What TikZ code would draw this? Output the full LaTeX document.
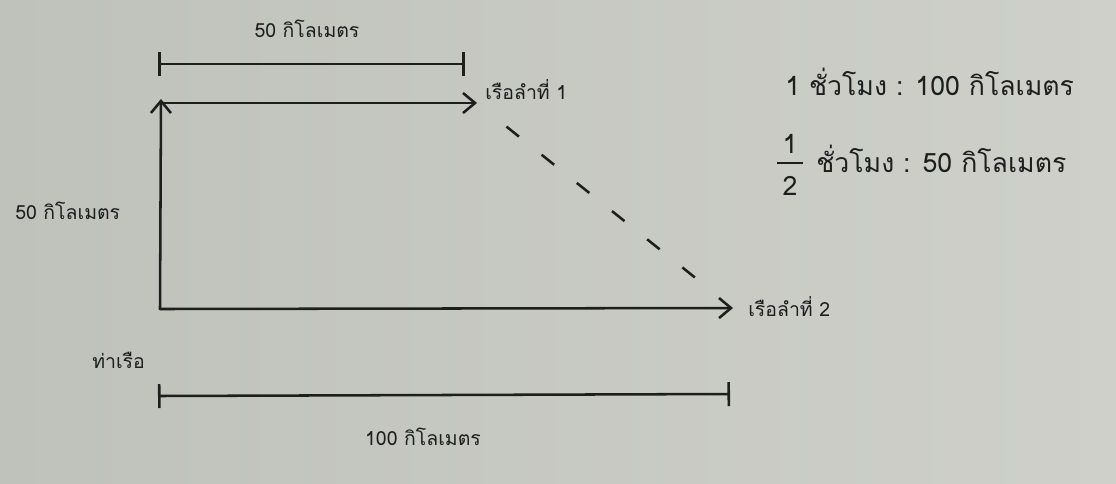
\documentclass[tikz,border=0pt]{standalone}
\usepackage{fontspec}
\newfontfamily\thaifont[Script=Thai]{Loma}
\usetikzlibrary{arrows.meta}
\definecolor{paperL}{RGB}{207,208,202}
\definecolor{paperD}{RGB}{191,193,187}
\definecolor{ink}{RGB}{30,30,30}
\tikzset{
  stroke/.style={draw=ink, line width=1.9pt, line cap=round},
  arr/.style={stroke, -{Straight Barb[length=9pt,width=15pt,line width=1.9pt]}},
  tick/.style={stroke, {Bar[width=18pt,line width=1.9pt]}-{Bar[width=18pt,line width=1.9pt]}},
  dashes/.style={draw=ink, line width=1.9pt, dash pattern=on 12pt off 21.8pt},
  small/.style={text=ink, inner sep=0pt, font=\thaifont\fontsize{14.6}{17}\selectfont},
  big/.style={text=ink, inner sep=0pt, font=\thaifont\fontsize{20}{24}\selectfont},
}
\begin{document}
\begin{tikzpicture}[x=0.75pt,y=-0.75pt]
  \shade[left color=paperD, right color=paperL] (0,0) rectangle (1116,483);
  \useasboundingbox (0,0) rectangle (1116,483);
  % key points
  \coordinate (port) at (160,309);
  \coordinate (north) at (161,99);
  \coordinate (start1) at (162,103);
  \coordinate (boat1) at (477,103);
  \coordinate (boat2) at (733,308);
  \coordinate (t1a) at (158,64);
  \coordinate (t1b) at (465,64);
  \coordinate (t2a) at (158,396);
  \coordinate (t2b) at (730,394);
  % dimension bars
  \draw[tick] (t1a) -- (t1b);
  \draw[tick] (t2a) -- (t2b);
  % arrows
  \draw[arr] (port) -- (north);
  \draw[arr] (start1) -- (boat1);
  \draw[arr] (port) -- (boat2);
  \draw[dashes, shorten <=28.3pt, shorten >=36.4pt] (boat1) -- (boat2);
  % labels
  \node[small, anchor=base] (l50top) at (307,37) {50 กิโลเมตร};
  \node[small, anchor=base west] (lb1) at (485,99) {เรือลำที่ 1};
  \node[small, anchor=base west] (l50left) at (15,219) {50 กิโลเมตร};
  \node[small, anchor=base west] (lport) at (92,368) {ท่าเรือ};
  \node[small, anchor=base west] (lb2) at (748,316) {เรือลำที่ 2};
  \node[small, anchor=base] (l100) at (423,445) {100 กิโลเมตร};
  \node[big, anchor=base west] (r1) at (785,95) {1 ชั่วโมง : 100 กิโลเมตร};
  \node[big, anchor=base west] (r2) at (816,172) {ชั่วโมง : 50 กิโลเมตร};
  \node[big, anchor=base] (fnum) at (790,153) {1};
  \node[big, anchor=base] (fden) at (790,195) {2};
  \coordinate (fbl) at (777,163);
  \coordinate (fbr) at (803,163);
  \draw[draw=ink, line width=1.6pt] (fbl) -- (fbr);
\end{tikzpicture}
\end{document}
